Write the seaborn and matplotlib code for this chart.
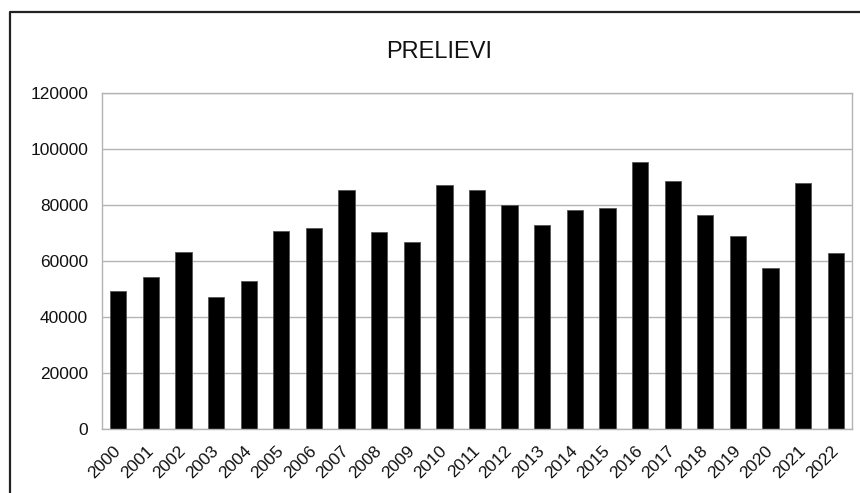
import matplotlib
matplotlib.use("Agg")
import matplotlib.pyplot as plt
from matplotlib.lines import Line2D
from matplotlib.ticker import FixedLocator
import seaborn as sns
import pandas as pd

# Annual withdrawals
years = [str(y) for y in range(2000, 2023)]
prelievi = [49300, 54300, 63300, 47200, 52900, 70900, 72000, 85600, 70400,
            66900, 87100, 85600, 80000, 72900, 78500, 78900, 95600, 88600,
            76400, 68900, 57500, 88100, 62900]
y_ticks = [0, 20000, 40000, 60000, 80000, 100000, 120000]

df = pd.DataFrame({"anno": years, "prelievi": prelievi})

sns.set_style("white")
plt.rcParams["font.family"] = ["Liberation Sans", "DejaVu Sans"]

fig = plt.figure(figsize=(8.6, 4.93), dpi=100)
ax = fig.add_axes([0.1186, 0.1292, 0.8721, 0.6815])

sns.barplot(data=df, x="anno", y="prelievi", color="black", saturation=1,
            width=0.5, edgecolor="#555555", linewidth=0.6, ax=ax)

grid_c = "#b3b3b3"
ax.set_ylim(0, 120000)
ax.set_xlim(-0.5, len(years) - 0.5)
ax.set_yticks(y_ticks)
ax.set_yticklabels([str(v) for v in y_ticks], fontsize=12.5, color="#111111")
ax.yaxis.grid(True, color=grid_c, linewidth=1)
ax.set_axisbelow(True)

# category boundaries carry the tick marks, labels sit at the bar centres
ax.xaxis.set_minor_locator(FixedLocator([i - 0.5 for i in range(len(years) + 1)]))
ax.tick_params(axis="x", which="major", length=0, pad=14)
ax.tick_params(axis="x", which="minor", length=5, width=1, color=grid_c)
ax.tick_params(axis="y", length=5, width=1, color=grid_c, pad=5)
ax.set_xticks(range(len(years)))
ax.set_xticklabels(years, fontsize=12.5, rotation=45, ha="right",
                   va="center", rotation_mode="anchor", color="#111111")

for s in ax.spines.values():
    s.set_color(grid_c)
    s.set_linewidth(1)

ax.set_xlabel("")
ax.set_ylabel("")

fig.text(439.5 / 860, 1 - 52 / 493, "PRELIEVI", ha="center", va="center",
         fontsize=17, color="#111111")

# outer chart frame
fig.add_artist(Line2D([9.5 / 860, 9.5 / 860, 1.01], [-0.01, 1 - 11.5 / 493, 1 - 11.5 / 493],
                      transform=fig.transFigure, color="#222222", linewidth=1.6))

fig.savefig("out.png", dpi=100)
